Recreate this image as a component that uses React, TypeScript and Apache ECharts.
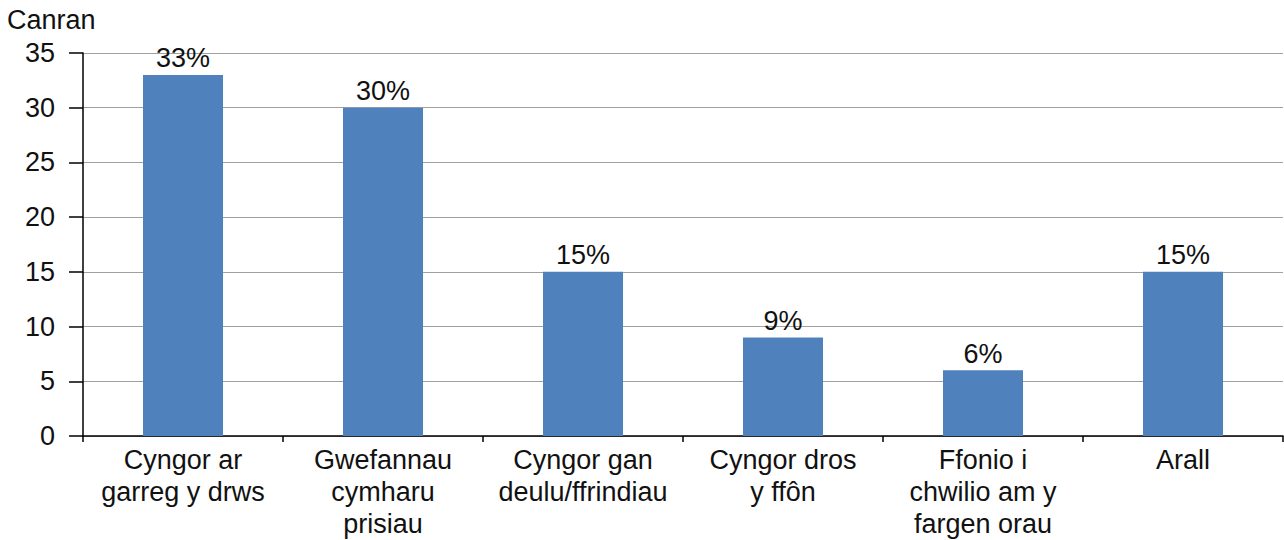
import React, { useEffect, useRef } from "react";
import * as echarts from "echarts";

const categories = [
  "Cyngor ar\ngarreg y drws",
  "Gwefannau\ncymharu\nprisiau",
  "Cyngor gan\ndeulu/ffrindiau",
  "Cyngor dros\ny ffôn",
  "Ffonio i\nchwilio am y\nfargen orau",
  "Arall",
];
const values = [33, 30, 15, 9, 6, 15];
const yTicks = { min: 0, max: 35, interval: 5 };
const yTitle = "Canran";

const FONT = "'Liberation Sans', Arial, Helvetica, sans-serif";

export default function App() {
  const ref = useRef<HTMLDivElement>(null);
  useEffect(() => {
    const chart = echarts.init(ref.current!, null, { renderer: "svg" });
    chart.setOption({
      animation: false,
      textStyle: { fontFamily: FONT },
      graphic: [
        {
          type: "text",
          left: 7,
          top: 6,
          style: { text: yTitle, font: `27px ${FONT}`, fill: "#111" },
        },
      ],
      grid: { left: 83, right: 1, top: 53, bottom: 103, containLabel: false },
      xAxis: {
        type: "category",
        data: categories,
        axisLine: { show: true, lineStyle: { color: "#000", width: 1.5 } },
        axisTick: { show: true, length: 6, lineStyle: { color: "#000", width: 1.5 } },
        axisLabel: {
          interval: 0,
          fontSize: 27,
          lineHeight: 32,
          color: "#111",
          margin: 8,
          fontFamily: FONT,
        },
      },
      yAxis: {
        type: "value",
        min: yTicks.min,
        max: yTicks.max,
        interval: yTicks.interval,
        axisLine: { show: true, lineStyle: { color: "#000", width: 1.5 } },
        axisTick: { show: true, inside: false, length: 14, lineStyle: { color: "#000", width: 1.5 } },
        axisLabel: { fontSize: 27, color: "#111", margin: 28, fontFamily: FONT },
        splitLine: { show: true, lineStyle: { color: "#a0a0a0", width: 1.2 } },
      },
      series: [
        {
          type: "bar",
          data: values,
          barWidth: "40%",
          itemStyle: { color: "#4f81bd" },
          label: {
            show: true,
            position: "top",
            distance: 3,
            formatter: "{c}%",
            fontSize: 27,
            color: "#111",
            fontFamily: FONT,
          },
        },
      ],
    });
    return () => chart.dispose();
  }, []);
  return <div ref={ref} style={{ width: 1284, height: 540, position: "absolute", left: 0, top: 0 }} />;
}
